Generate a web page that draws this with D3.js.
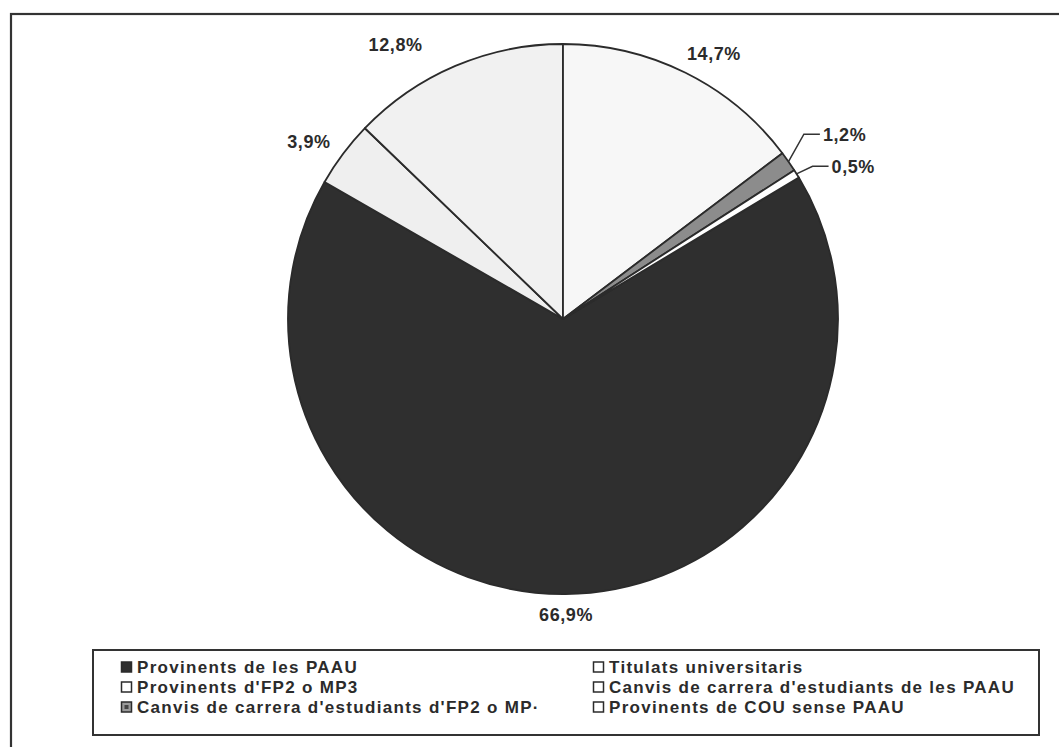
<!DOCTYPE html>
<html>
<head>
<meta charset="utf-8">
<script src="https://cdn.jsdelivr.net/npm/d3@7"></script>
<style>
  body { margin: 0; background: #fff; }
  text { font-family: "Liberation Sans", Arial, sans-serif; font-weight: bold; fill: #2b2b2b; }
</style>
</head>
<body>
<div id="chart"></div>
<script>
// categories in legend order
var categories = [
  "Provinents de les PAAU",
  "Titulats universitaris",
  "Provinents d'FP2 o MP3",
  "Canvis de carrera d'estudiants de les PAAU",
  "Canvis de carrera d'estudiants d'FP2 o MP·",
  "Provinents de COU sense PAAU"
];
var values = [66.9, 3.9, 12.8, 14.7, 1.2, 0.5];
var labels = ["66,9%", "3,9%", "12,8%", "14,7%", "1,2%", "0,5%"];

var svgWidth = 1059, svgHeight = 747;
var cx = 563, cy = 319, radius = 275;

var fills = ["#2f2f2f", "#efefef", "#f1f1f1", "#f7f7f7", "#8c8c8c", "#ffffff"];
var legendFills = ["#2f2f2f", "#ffffff", "#ffffff", "#ffffff", "#9a9a9a", "#ffffff"];

var svg = d3.select("#chart").append("svg")
  .attr("width", svgWidth)
  .attr("height", svgHeight);

// outer frame (right and bottom run off the page)
svg.append("rect")
  .attr("x", 11).attr("y", 14)
  .attr("width", 1080).attr("height", 760)
  .attr("fill", "none")
  .attr("stroke", "#333")
  .attr("stroke-width", 2.2);

// first slice starts after the last three slices (clockwise from 12 o'clock)
var offset = 2 * Math.PI * (values[3] + values[4] + values[5]) / d3.sum(values);

var pie = d3.pie()
  .sort(null)
  .value(d => d)
  .startAngle(offset)
  .endAngle(offset + 2 * Math.PI);

var arcs = pie(values);
var arc = d3.arc().innerRadius(0).outerRadius(radius);

var pieGroup = svg.append("g")
  .attr("transform", `translate(${cx}, ${cy})`);

pieGroup.selectAll("path.slice")
  .data(arcs)
  .enter().append("path")
  .attr("class", "slice")
  .attr("d", arc)
  .attr("fill", (d, i) => fills[i])
  .attr("stroke", "#2b2b2b")
  .attr("stroke-width", 1.8)
  .attr("stroke-linejoin", "round");

// labels
var midAngle = d => (d.startAngle + d.endAngle) / 2;
var labelNudge = { 2: [-41, -2], 3: [7, -1], 4: [-1, -16], 5: [-1, 3] };
var small = [4, 5];

arcs.forEach(function(d, i) {
  var a = midAngle(d);
  var nudge = labelNudge[i] || [0, 0];
  if (small.indexOf(i) >= 0) {
    var r0 = radius, r1 = radius + 20;
    var p0 = [r0 * Math.sin(a), -r0 * Math.cos(a)];
    var p1 = [r1 * Math.sin(a) + nudge[0], -r1 * Math.cos(a) + nudge[1]];
    var p2 = [p1[0] + 16, p1[1]];
    pieGroup.append("polyline")
      .attr("points", [p0, p1, p2].map(p => p.join(",")).join(" "))
      .attr("fill", "none")
      .attr("stroke", "#333")
      .attr("stroke-width", 1.5);
    pieGroup.append("text")
      .attr("x", p2[0] + 3)
      .attr("y", p2[1])
      .attr("dy", "0.36em")
      .style("font-size", "18px")
      .style("letter-spacing", "0.6px")
      .text(labels[i]);
  } else {
    var rl = radius + 21;
    var t = pieGroup.append("text")
      .attr("text-anchor", "middle")
      .attr("dy", "0.36em")
      .style("font-size", "18px")
      .style("letter-spacing", "0.6px")
      .text(labels[i]);
    var w = t.node().getComputedTextLength();
    t.attr("x", rl * Math.sin(a) + (w / 2) * Math.sin(a) + nudge[0])
     .attr("y", -rl * Math.cos(a) + nudge[1]);
  }
});

// legend
var legendBox = { x: 93, y: 650, w: 946, h: 85 };
svg.append("rect")
  .attr("x", legendBox.x).attr("y", legendBox.y)
  .attr("width", legendBox.w).attr("height", legendBox.h)
  .attr("fill", "#fff")
  .attr("stroke", "#333")
  .attr("stroke-width", 2);

var colX = [121, 593];
var rowY = [667, 687, 707];

var legend = svg.append("g");
var items = legend.selectAll("g.item")
  .data(categories)
  .enter().append("g")
  .attr("class", "item")
  .attr("transform", (d, i) => `translate(${colX[i % 2]}, ${rowY[Math.floor(i / 2)]})`);

items.append("rect")
  .attr("x", 0.5).attr("y", -5)
  .attr("width", 10).attr("height", 10)
  .attr("fill", (d, i) => legendFills[i])
  .attr("stroke", "#2b2b2b")
  .attr("stroke-width", 1.5);

items.filter((d, i) => i === 4).append("rect")
  .attr("x", 3.5).attr("y", -2)
  .attr("width", 4).attr("height", 4)
  .attr("fill", "#444");

items.append("text")
  .attr("x", 16)
  .attr("dy", "0.36em")
  .style("font-size", "17px")
  .style("letter-spacing", "1.3px")
  .text(d => d);
</script>
</body>
</html>
